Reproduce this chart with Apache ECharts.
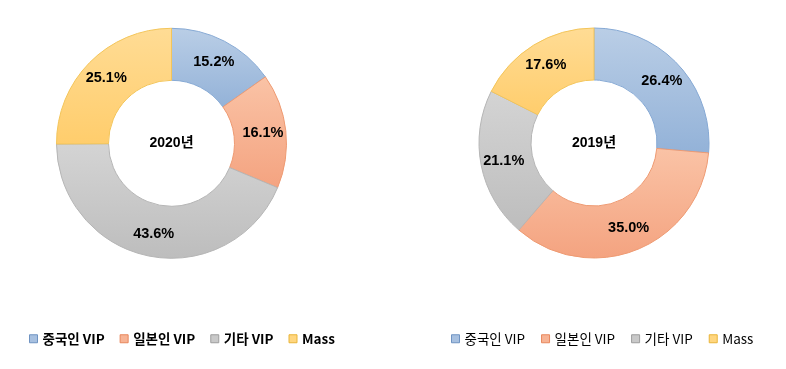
<!DOCTYPE html>
<html><head><meta charset="utf-8">
<script src="https://cdn.jsdelivr.net/npm/echarts@6/dist/echarts.min.js"></script>
<style>html,body{margin:0;padding:0;background:#fff}#c{width:786px;height:369px}</style>
</head><body><div id="c"></div>
<script>
const categories = ['중국인 VIP', '일본인 VIP', '기타 VIP', 'Mass'];
const years = ['2020년', '2019년'];
const values2020 = [15.2, 16.1, 43.6, 25.1];
const values2019 = [26.4, 35.0, 21.1, 17.6];

const fills = [
  ['#bacee6', '#93b2d8', '#86a9d4'],
  ['#fac3a6', '#f4a380', '#ee9a72'],
  ['#d4d4d4', '#bdbdbd', '#b5b5b5'],
  ['#ffdc95', '#ffcd6c', '#f3c55a']
];
const legendFill = ['#a7c0e0', '#f7b394', '#c9c9c9', '#ffd67f'];
const legendBorder = ['#6f93c2', '#e8875c', '#9d9d9d', '#e9b53a'];
function grad(i){
  return {type:'linear',x:0,y:0,x2:0,y2:1,colorStops:[{offset:0,color:fills[i][0]},{offset:1,color:fills[i][1]}]};
}
function mkData(vals){
  return vals.map((v,i)=>({name:categories[i],value:v,itemStyle:{color:grad(i),borderColor:fills[i][2],borderWidth:1}}));
}
const labelStyle = {show:true,position:'inside',formatter:p=>p.value.toFixed(1)+'%',color:'#000',fontFamily:'Liberation Sans, Arial',fontWeight:'bold',fontSize:14.5};
const centers = [[171.5,143.3],[594,143]];
const chart = echarts.init(document.getElementById('c'),null,{renderer:'canvas'});
function legendData(){
  return categories.map((c,i)=>({name:c,icon:'rect',itemStyle:{color:legendFill[i],borderColor:legendBorder[i],borderWidth:1}}));
}
chart.setOption({
  animation:false,
  legend:[
    {left:29,top:332,padding:0,itemWidth:8,itemHeight:8,itemGap:15,selectedMode:false,data:legendData(),
     textStyle:{fontFamily:'Noto Sans CJK KR',fontWeight:'bold',fontSize:13.5,color:'#000'}},
    {left:451,top:332,padding:0,itemWidth:8,itemHeight:8,itemGap:16,selectedMode:false,data:legendData(),
     textStyle:{fontFamily:'Noto Sans CJK KR',fontWeight:'normal',fontSize:13.5,color:'#000'}}
  ],
  graphic: years.map((y,i)=>({type:'text',x:centers[i][0],y:centers[i][1],
     style:{text:y,textAlign:'center',textVerticalAlign:'middle',fill:'#000',fontFamily:'Liberation Sans, Noto Sans CJK KR',fontWeight:'bold',fontSize:14}})),
  series:[
    {type:'pie',center:centers[0],radius:[63,115],startAngle:90,clockwise:true,avoidLabelOverlap:false,
     label:labelStyle,labelLine:{show:false},emphasis:{disabled:true},data:mkData(values2020)},
    {type:'pie',center:centers[1],radius:[63,115],startAngle:90,clockwise:true,avoidLabelOverlap:false,
     label:labelStyle,labelLine:{show:false},emphasis:{disabled:true},data:mkData(values2019)}
  ]
});
</script></body></html>
